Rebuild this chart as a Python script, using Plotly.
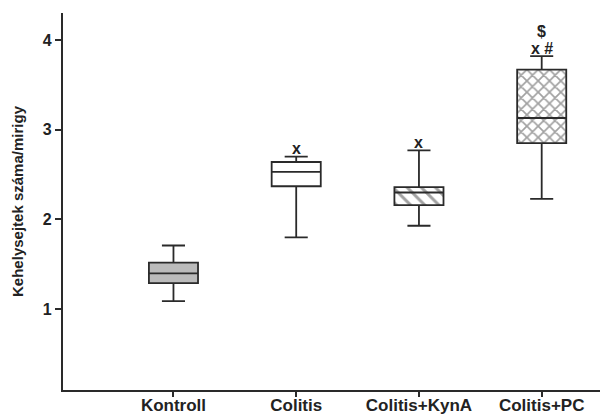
import plotly.graph_objects as go

categories = ["Kontroll", "Colitis", "Colitis+KynA", "Colitis+PC"]
lower_whisker = [1.09, 1.80, 1.93, 2.23]
q1 = [1.29, 2.37, 2.16, 2.85]
median = [1.40, 2.53, 2.30, 3.13]
q3 = [1.52, 2.64, 2.36, 3.67]
upper_whisker = [1.71, 2.70, 2.77, 3.82]
y_ticks = [1, 2, 3, 4]
fills = ["#bbbbbb", "white", "white", "white"]
patterns = ["", "", "\\", "x"]
y_title = "Kehelysejtek száma/mirigy"
marks = [("Colitis", "x", 0), ("Colitis+KynA", "x", 0), ("Colitis+PC", "x #", 0), ("Colitis+PC", "$", 1)]

font = "Liberation Sans, Arial, sans-serif"
line_col = "#2a2a2a"

fig = go.Figure()
fig.add_trace(go.Bar(
    x=categories, y=[b - a for a, b in zip(q1, q3)], base=q1, width=0.4,
    marker=dict(color=fills, line=dict(width=0),
                pattern=dict(shape=patterns, fgcolor="#1a1a1a", bgcolor=fills,
                             size=[8, 8, 10, 8], solidity=[0.3, 0.3, 0.3, 0.38])),
    showlegend=False, hoverinfo="skip"))
fig.add_trace(go.Box(
    x=categories, q1=q1, median=median, q3=q3,
    lowerfence=lower_whisker, upperfence=upper_whisker,
    width=0.4, whiskerwidth=0.47, boxpoints=False,
    fillcolor="rgba(0,0,0,0)", line=dict(color=line_col, width=1.8),
    showlegend=False))

ub = dict(zip(categories, upper_whisker))
for cat, txt, lvl in marks:
    fig.add_annotation(x=cat, y=ub[cat], text=txt, showarrow=False,
                       yanchor="middle", yshift=8 + 17 * lvl,
                       font=dict(family=font, size=16, color="#222", weight="bold"))

fig.update_layout(
    width=600, height=416, margin=dict(l=63, r=0, t=13, b=26),
    plot_bgcolor="white", paper_bgcolor="white",
    barmode="overlay", boxmode="overlay",
    font=dict(family=font, color="#222"),
)
fig.update_xaxes(range=[-0.9, 3.475], showline=True, linewidth=2.2, linecolor=line_col,
                 ticks="outside", ticklen=5, tickwidth=1.8, tickcolor=line_col,
                 showgrid=False, zeroline=False, automargin=False,
                 ticklabelstandoff=-7,
                 tickfont=dict(family=font, size=17, color="#222", weight="bold"))
fig.update_yaxes(range=[0.1, 4.3], tickvals=y_ticks, showline=True, linewidth=2.2, linecolor=line_col,
                 ticks="outside", ticklen=6, tickwidth=1.8, tickcolor=line_col,
                 showgrid=False, zeroline=False, automargin=False,
                 tickfont=dict(family=font, size=16, color="#222", weight="bold"),
                 title=dict(text=y_title, font=dict(family=font, size=15, color="#222", weight="bold"),
                            standoff=16))
fig.write_html("out.html", config={"displayModeBar": False},
               post_script="document.body.style.margin='0';")
